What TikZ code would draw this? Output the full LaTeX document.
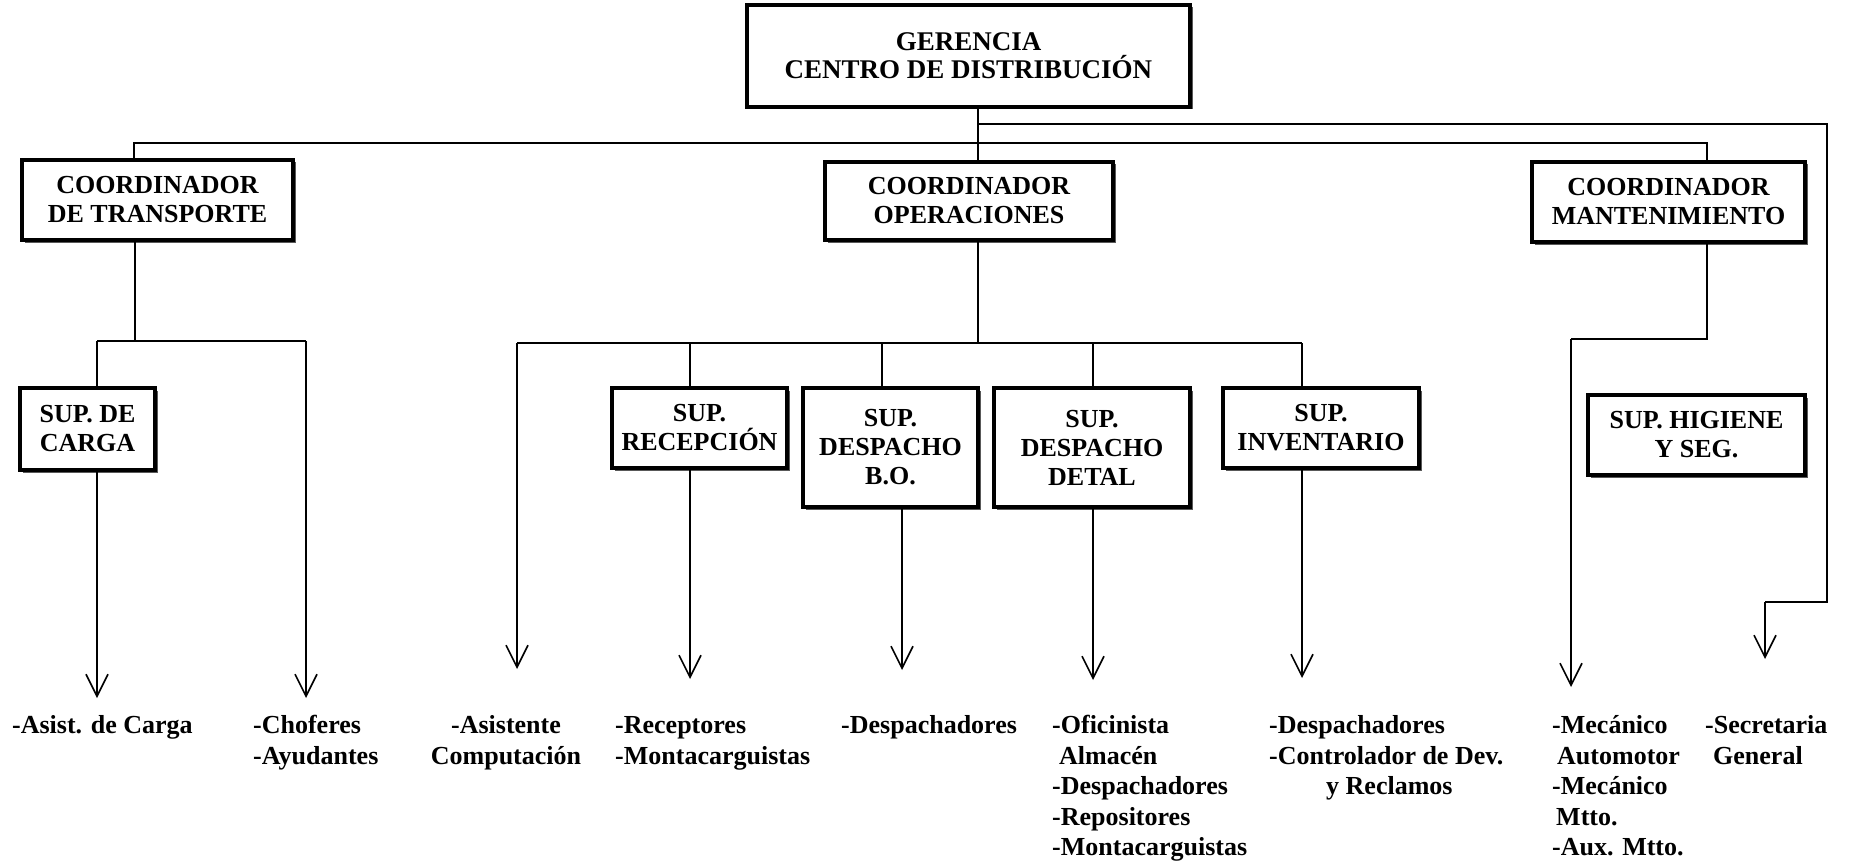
\documentclass[tikz,border=0pt]{standalone}
\usepackage{fontspec}
\setmainfont{Liberation Serif}
\usetikzlibrary{arrows.meta,shadows}
\begin{document}
\begin{tikzpicture}[x=1pt,y=-1pt,
  box/.style={draw=black, line width=3.2pt, fill=white, align=center,
    font=\fontsize{26}{29}\selectfont\bfseries, inner sep=0pt,
    general shadow={fill=black!65, shadow xshift=2.5pt, shadow yshift=-2.5pt}},
  conn/.style={line width=1.6pt},
  arr/.style={line width=1.6pt, -{Straight Barb[length=22pt,width=22pt,line width=1.6pt]}},
  item/.style={font=\fontsize{26}{30.5}\selectfont\bfseries, align=left, inner sep=0pt, anchor=north west}]
\useasboundingbox[fill=white] (0,0) rectangle (1854,861);

% boxes
\node[box, font=\fontsize{27}{28}\selectfont\bfseries, minimum width=443pt, minimum height=102pt] (ger) at (968.5,56) {GERENCIA\\CENTRO DE DISTRIBUCIÓN};
\node[box, minimum width=271pt, minimum height=80pt] (ct) at (157.5,200) {COORDINADOR\\DE TRANSPORTE};
\node[box, minimum width=288pt, minimum height=78pt] (co) at (969,201) {COORDINADOR\\OPERACIONES};
\node[box, minimum width=273pt, minimum height=80pt] (cm) at (1668.5,202) {COORDINADOR\\MANTENIMIENTO};
\node[box, minimum width=135pt, minimum height=82pt] (sc) at (87.5,429) {SUP. DE\\CARGA};
\node[box, minimum width=175pt, minimum height=80pt] (sr) at (699.5,428) {SUP.\\RECEPCIÓN};
\node[box, minimum width=175pt, minimum height=119pt] (sb) at (890.5,447.5) {SUP.\\DESPACHO\\B.O.};
\node[box, minimum width=196pt, minimum height=119pt] (sd) at (1092,447.5) {SUP.\\DESPACHO\\DETAL};
\node[box, minimum width=196pt, minimum height=80pt] (si) at (1321,428) {SUP.\\INVENTARIO};
\node[box, minimum width=217pt, minimum height=80pt] (sh) at (1696.5,435) {SUP. HIGIENE\\Y SEG.};

% bottom items (top = first baseline 733.5 minus strut height 21.35)
\node[item] (i1) at (12,712.15) {\strut-Asist. de Carga};
\node[item] (i2) at (253,712.15) {\strut-Choferes\\-Ayudantes};
\node[item, align=center, anchor=north] (i3) at (506,712.15) {\strut-Asistente\\Computación};
\node[item] (i4) at (615,712.15) {\strut-Receptores\\-Montacarguistas};
\node[item] (i5) at (841,712.15) {\strut-Despachadores};
\node[item] (i6) at (1052,712.15) {\strut-Oficinista\\\hspace*{7pt}Almacén\\-Despachadores\\-Repositores\\-Montacarguistas};
\node[item] (i7) at (1269,712.15) {\strut-Despachadores\\-Controlador de Dev.\\\hspace*{57pt}y Reclamos};
\node[item] (i8) at (1552,712.15) {\strut-Mecánico\\\hspace*{5pt}Automotor\\-Mecánico\\\hspace*{4pt}Mtto.\\-Aux. Mtto.};
\node[item] (i9) at (1705,712.15) {\strut-Secretaria\\\hspace*{8pt}General};

% coordinates
\coordinate (gj) at (978,124);
\coordinate (sA) at (1827,602);
\coordinate (sB) at (1765,602);
\coordinate (sT) at (1765,659);
\coordinate (tL) at (134,143);
\coordinate (tR) at (1707,143);
\coordinate (tj) at (135,341);
\coordinate (tA) at (97,341);
\coordinate (tB) at (306,341);
\coordinate (tAt) at (97,698);
\coordinate (tBt) at (306,698);
\coordinate (oj) at (978,343);
\coordinate (o1) at (517,343);
\coordinate (o2) at (690,343);
\coordinate (o3) at (882,343);
\coordinate (o4) at (1093,343);
\coordinate (o5) at (1302,343);
\coordinate (o1t) at (517,669);
\coordinate (o2t) at (690,679);
\coordinate (o3t) at (902,670);
\coordinate (o4t) at (1093,680);
\coordinate (o5t) at (1302,678);
\coordinate (mj) at (1707,339);
\coordinate (mA) at (1571,339);
\coordinate (mAt) at (1571,687);

% connectors from gerencia
\draw[conn] (ger.south -| gj) -- (co.north -| gj);
\draw[conn] (gj) -| (sA) -- (sB);
\draw[arr] (sB) -- (sT);
\draw[conn] (ct.north -| tL) -- (tL) -- (tR) -- (cm.north -| tR);

% transporte
\draw[conn] (ct.south -| tj) -- (tj);
\draw[conn] (tA) -- (tB);
\draw[conn] (tA) -- (sc.north -| tA);
\draw[arr] (sc.south -| tA) -- (tAt);
\draw[arr] (tB) -- (tBt);

% operaciones
\draw[conn] (co.south -| oj) -- (oj);
\draw[conn] (o1) -- (o5);
\draw[arr] (o1) -- (o1t);
\draw[conn] (o2) -- (sr.north -| o2);
\draw[conn] (o3) -- (sb.north -| o3);
\draw[conn] (o4) -- (sd.north -| o4);
\draw[conn] (o5) -- (si.north -| o5);
\draw[arr] (sr.south -| o2) -- (o2t);
\draw[arr] (sb.south -| o3t) -- (o3t);
\draw[arr] (sd.south -| o4) -- (o4t);
\draw[arr] (si.south -| o5) -- (o5t);

% mantenimiento
\draw[conn] (cm.south -| mj) -- (mj) -- (mA);
\draw[arr] (mA) -- (mAt);
\end{tikzpicture}
\end{document}
